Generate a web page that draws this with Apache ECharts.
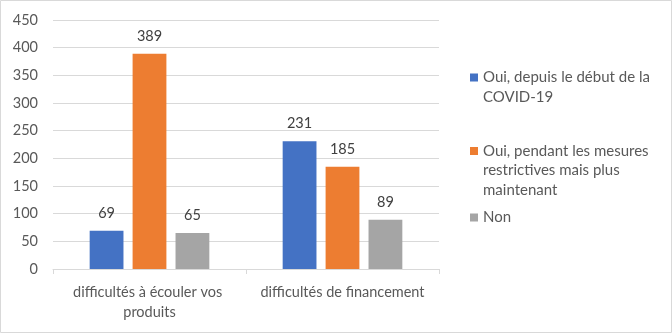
<!DOCTYPE html>
<html>
<head>
<meta charset="utf-8">
<script src="https://cdn.jsdelivr.net/npm/echarts@6/dist/echarts.min.js"></script>
<style>
html,body{margin:0;padding:0;background:#fff;}
#c{width:672px;height:333px;}
</style>
</head>
<body>
<div id="c"></div>
<script>
var categories = ["difficultés à écouler vos produits", "difficultés de financement"];
var seriesNames = ["Oui, depuis le début de la COVID-19", "Oui, pendant les mesures restrictives mais plus maintenant", "Non"];
var legendLines = [["Oui, depuis le début de la", "COVID-19"], ["Oui, pendant les mesures", "restrictives mais plus", "maintenant"], ["Non"]];
var valuesCovid = [69, 231];
var valuesMesures = [389, 185];
var valuesNon = [65, 89];
var yTicks = {min: 0, max: 450, interval: 50};
var colors = ["#4472C4", "#ED7D31", "#A5A5A5"];

var FONT = "Lato, 'Open Sans', sans-serif";
var FS = 14.5;
var LFS = 15;
var LH = 19.5;
var legendTops = [77.5, 151, 217.5];
var allValues = [valuesCovid, valuesMesures, valuesNon];

var chart = echarts.init(document.getElementById('c'), null, {renderer: 'canvas'});

function iconPath(h) {
  var s0 = LH / 2 - 4, s1 = LH / 2 + 4;
  return 'path://M0,0L8,0M0,' + s0 + 'L8,' + s0 + 'L8,' + s1 + 'L0,' + s1 + 'ZM0,' + h + 'L8,' + h;
}

var legends = seriesNames.map(function (name, i) {
  var n = legendLines[i].length;
  var h = n * LH;
  return {
    data: [{name: name, icon: iconPath(h)}],
    orient: 'vertical',
    left: 470,
    top: legendTops[i] - LH / 2,
    padding: 0,
    itemWidth: 8,
    itemHeight: h,
    selectedMode: false,
    formatter: function () { return legendLines[i].join('\n'); },
    textStyle: {
      fontFamily: FONT, fontSize: LFS, color: '#595959',
      lineHeight: LH
    }
  };
});

var series = seriesNames.map(function (name, i) {
  return {
    name: name,
    type: 'bar',
    data: allValues[i],
    barGap: '27%',
    barCategoryGap: '38%',
    itemStyle: {color: colors[i]},
    label: {
      show: true, position: 'top', distance: 10,
      fontFamily: FONT, fontSize: FS, color: '#404040'
    }
  };
});

chart.setOption({
  animation: false,
  color: colors,
  textStyle: {fontFamily: FONT},
  grid: {left: 53, right: 233, top: 20, bottom: 64, containLabel: false},
  legend: legends,
  xAxis: {
    type: 'category',
    data: categories,
    axisLine: {lineStyle: {color: '#D9D9D9'}},
    axisTick: {show: true, length: 5, lineStyle: {color: '#D9D9D9'}},
    axisLabel: {
      fontFamily: FONT, fontSize: FS, color: '#595959', margin: 13,
      lineHeight: 20, width: 185, overflow: 'break', interval: 0
    }
  },
  yAxis: {
    type: 'value',
    min: yTicks.min, max: yTicks.max, interval: yTicks.interval,
    axisLine: {show: false},
    axisTick: {show: false},
    splitLine: {lineStyle: {color: '#D9D9D9'}},
    axisLabel: {fontFamily: FONT, fontSize: FS, color: '#595959', margin: 15}
  },
  graphic: [{
    type: 'rect', silent: true,
    shape: {x: 0.5, y: 0.5, width: 671, height: 332},
    style: {fill: null, stroke: '#D9D9D9', lineWidth: 1}
  }],
  series: series
});
</script>
</body>
</html>
